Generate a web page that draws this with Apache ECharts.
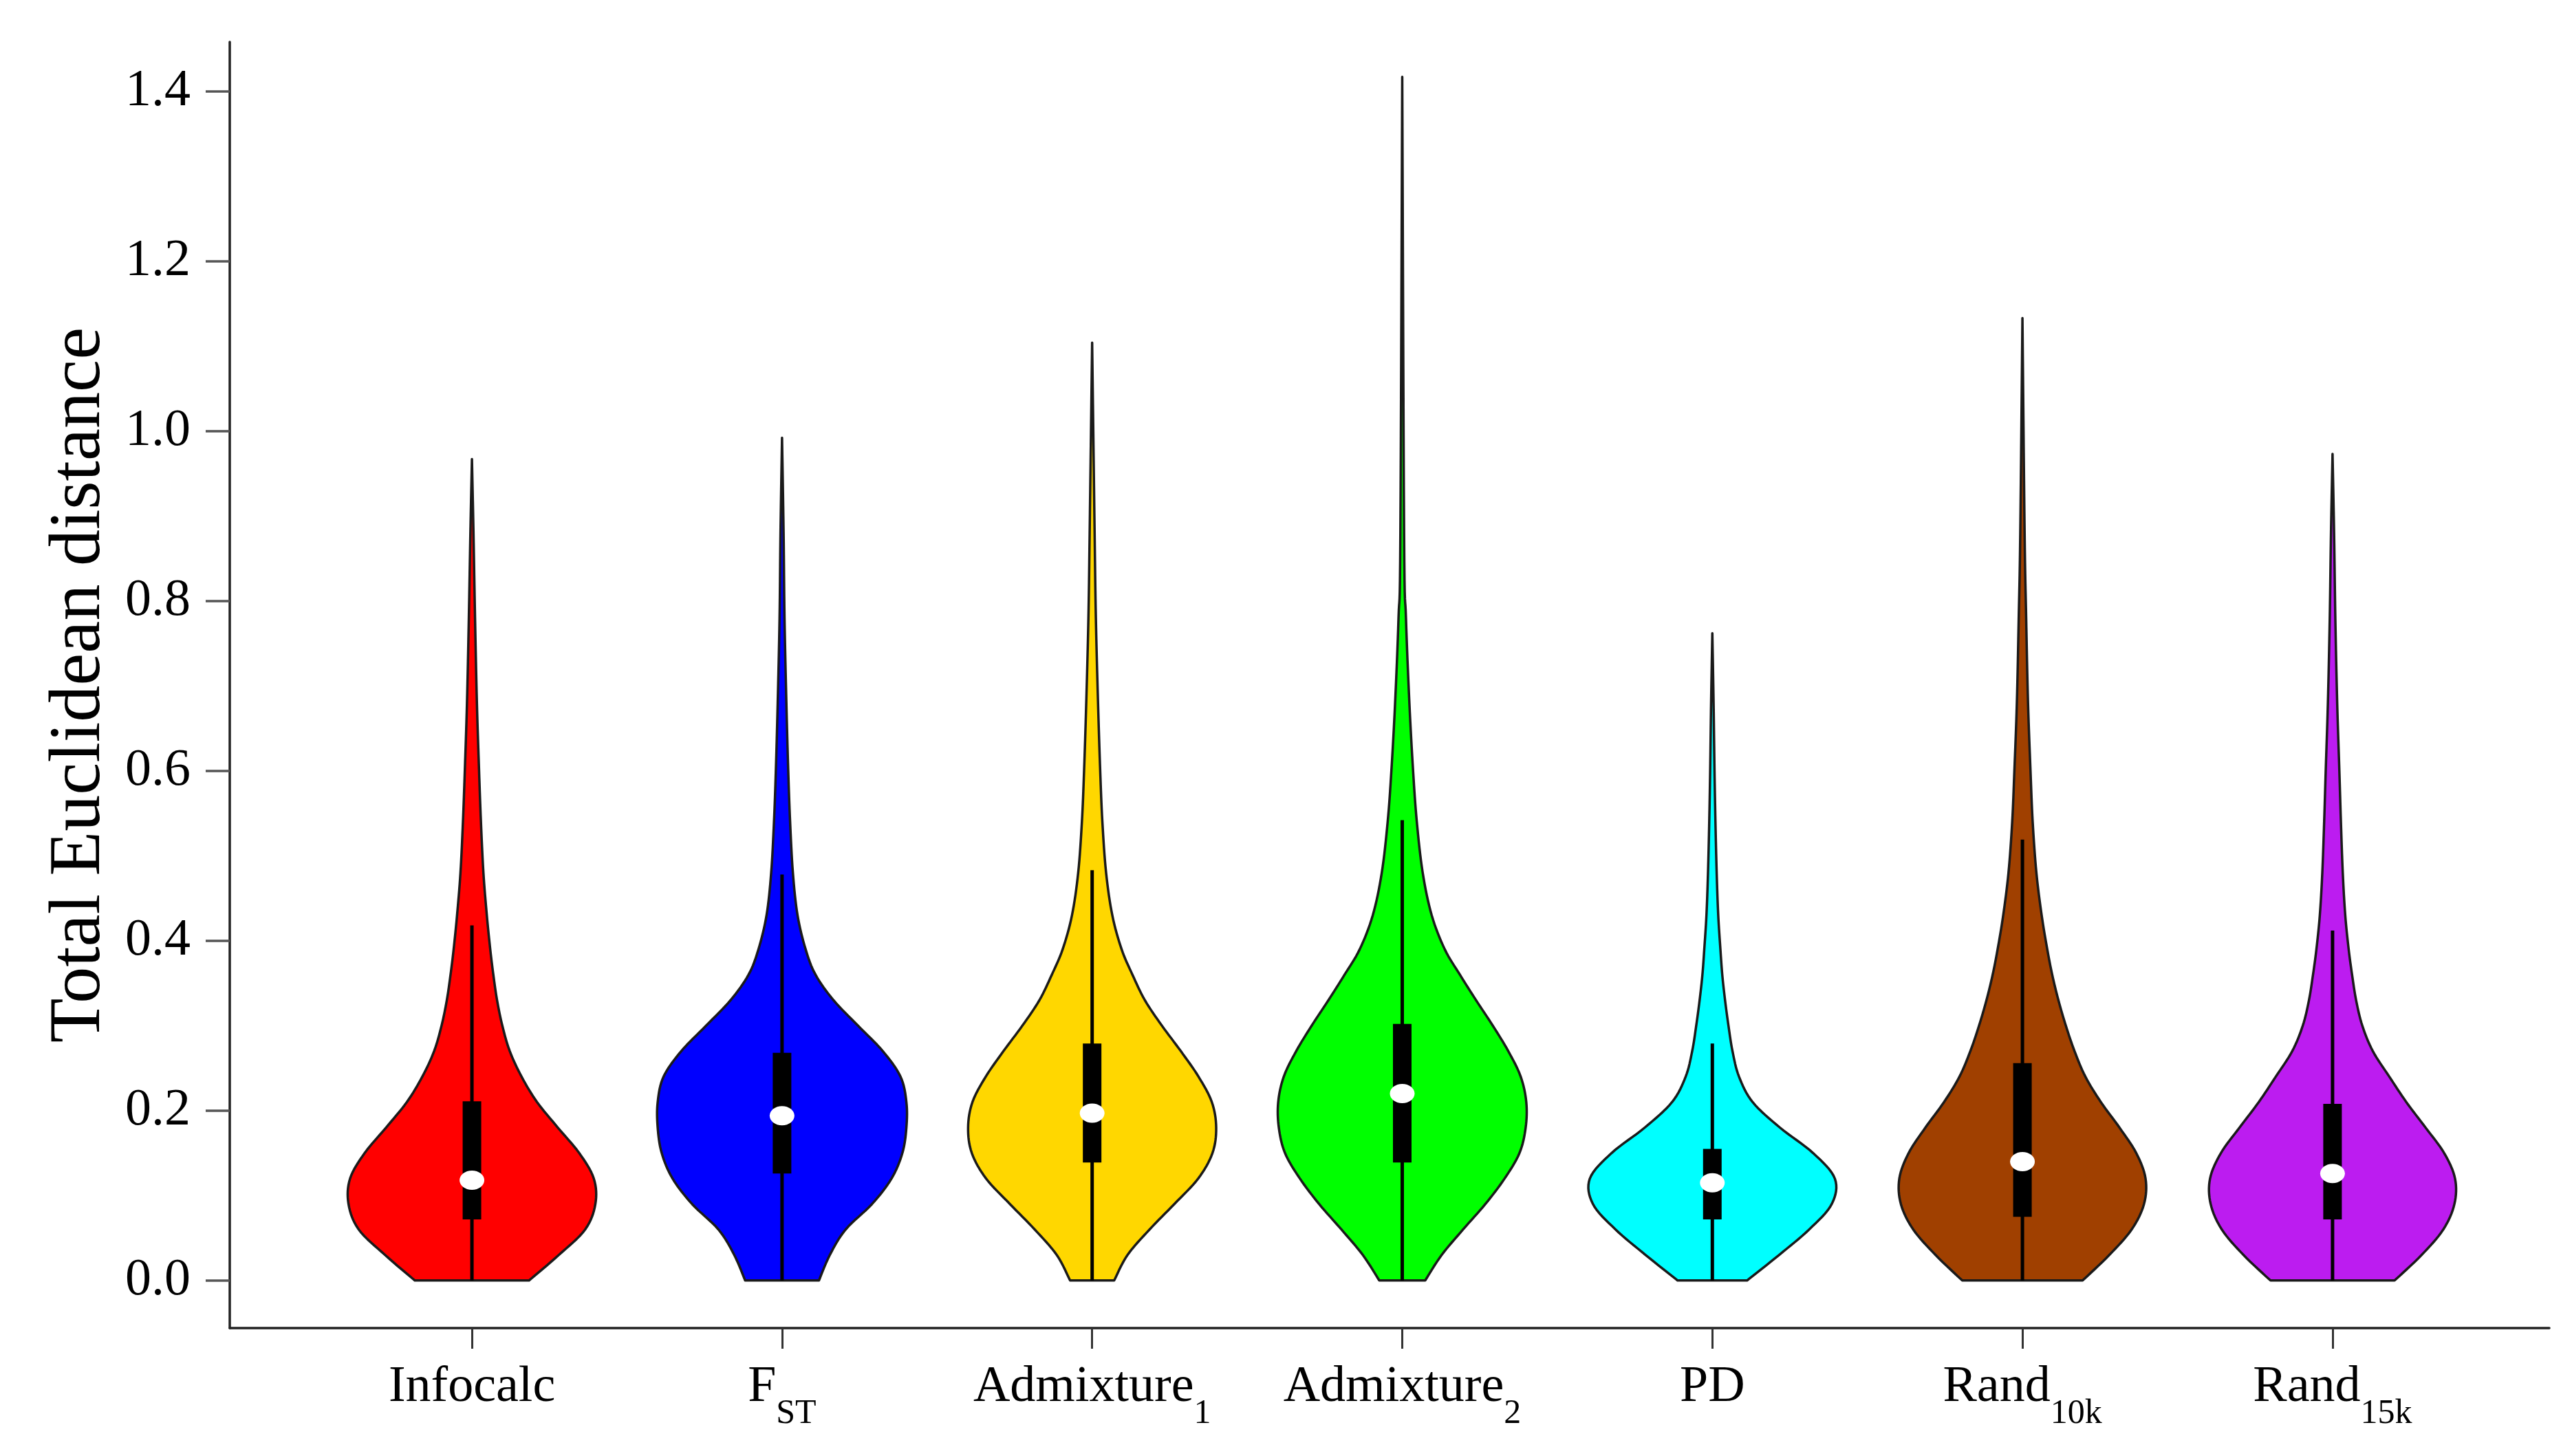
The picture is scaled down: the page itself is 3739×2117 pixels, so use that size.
<!DOCTYPE html>
<html>
<head>
<meta charset="utf-8">
<script src="https://cdn.jsdelivr.net/npm/echarts@6/dist/echarts.min.js"></script>
<style>
  html, body { margin: 0; padding: 0; background: #fff; }
  #chart { width: 3739px; height: 2117px; }
</style>
</head>
<body>
<div id="chart"></div>
<script>
// categories and subscripts of the labels
var names = ['Infocalc', 'F', 'Admixture', 'Admixture', 'PD', 'Rand', 'Rand'];
var subs = ['', 'ST', '1', '2', '', '10k', '15k'];
var colors = ['#ff0000', '#0000ff', '#ffd700', '#00ff00', '#00ffff', '#a04000', '#bc1cf0'];

// levels where the violin half widths were read (distance units)
var levels = [0, 0.03, 0.06, 0.09, 0.12, 0.15, 0.18, 0.21, 0.24, 0.27, 0.30, 0.33, 0.36, 0.39, 0.43, 0.48, 0.54, 0.60, 0.68, 0.78, 0.88];
// half widths, in category units
var wInfocalc = [0.184, 0.28, 0.365, 0.398, 0.393, 0.346, 0.277, 0.21, 0.16, 0.122, 0.098, 0.081, 0.069, 0.059, 0.048, 0.037, 0.029, 0.023, 0.016, 0.01, 0.005];
var wFst      = [0.119, 0.154, 0.205, 0.29, 0.353, 0.388, 0.401, 0.401, 0.382, 0.325, 0.245, 0.166, 0.108, 0.076, 0.05, 0.035, 0.026, 0.02, 0.014, 0.008, 0.005];
var wAdm1     = [0.071, 0.114, 0.185, 0.265, 0.342, 0.388, 0.40, 0.386, 0.343, 0.286, 0.225, 0.17, 0.13, 0.095, 0.065, 0.045, 0.033, 0.026, 0.019, 0.012, 0.008];
var wAdm2     = [0.074, 0.127, 0.196, 0.268, 0.33, 0.378, 0.398, 0.40, 0.382, 0.342, 0.292, 0.238, 0.186, 0.137, 0.095, 0.066, 0.047, 0.035, 0.023, 0.012, 0.006];
var wPD       = [0.112, 0.215, 0.312, 0.385, 0.395, 0.325, 0.218, 0.13, 0.086, 0.065, 0.052, 0.041, 0.032, 0.026, 0.019, 0.014, 0.01, 0.007, 0.004, 0, 0];
var wRand10k  = [0.194, 0.28, 0.352, 0.392, 0.397, 0.367, 0.313, 0.253, 0.203, 0.168, 0.14, 0.116, 0.096, 0.08, 0.062, 0.045, 0.033, 0.026, 0.018, 0.012, 0.007];
var wRand15k  = [0.2, 0.287, 0.357, 0.393, 0.395, 0.36, 0.30, 0.238, 0.183, 0.13, 0.096, 0.076, 0.063, 0.052, 0.041, 0.033, 0.027, 0.022, 0.015, 0.009, 0.005];
var widths = [wInfocalc, wFst, wAdm1, wAdm2, wPD, wRand10k, wRand15k];

// box plot stats
var maxima    = [0.967, 0.992, 1.104, 1.417, 0.762, 1.133, 0.973];
var whiskerHi = [0.418, 0.478, 0.483, 0.542, 0.279, 0.519, 0.412];
var q3        = [0.211, 0.268, 0.279, 0.302, 0.155, 0.256, 0.208];
var medians   = [0.118, 0.194, 0.197, 0.220, 0.115, 0.140, 0.126];
var q1        = [0.072, 0.126, 0.139, 0.139, 0.072, 0.075, 0.072];

var yTicks = [0, 0.2, 0.4, 0.6, 0.8, 1.0, 1.2, 1.4];
var xTicks = [1, 2, 3, 4, 5, 6, 7];

var FONT = '"Liberation Serif", "Times New Roman", serif';

// catmull-rom through pixel points
function smoothPts(pts) {
  var out = [];
  var n = pts.length;
  for (var i = 0; i < n - 1; i++) {
    var p0 = pts[Math.max(i - 1, 0)], p1 = pts[i], p2 = pts[i + 1], p3 = pts[Math.min(i + 2, n - 1)];
    for (var k = 0; k < 8; k++) {
      var t = k / 8, t2 = t * t, t3 = t2 * t;
      var x = 0.5 * ((2 * p1[0]) + (-p0[0] + p2[0]) * t + (2 * p0[0] - 5 * p1[0] + 4 * p2[0] - p3[0]) * t2 + (-p0[0] + 3 * p1[0] - 3 * p2[0] + p3[0]) * t3);
      var y = 0.5 * ((2 * p1[1]) + (-p0[1] + p2[1]) * t + (2 * p0[1] - 5 * p1[1] + 4 * p2[1] - p3[1]) * t2 + (-p0[1] + 3 * p1[1] - 3 * p2[1] + p3[1]) * t3);
      out.push([x, y]);
    }
  }
  out.push(pts[n - 1]);
  return out;
}

function renderItem(params, api) {
  var i = params.dataIndex;
  var cx = api.coord([i + 1, 0])[0];
  var unit = api.size([1, 0])[0];
  var w = widths[i];
  // right side, bottom to top
  var prof = [];
  for (var k = 0; k < levels.length; k++) {
    if (levels[k] >= maxima[i]) break;
    prof.push([Math.max(w[k], 0) * unit, api.coord([i + 1, levels[k]])[1]]);
  }
  prof.push([0, api.coord([i + 1, maxima[i]])[1]]);
  var sm = smoothPts(prof);
  var pts = [];
  sm.forEach(function (p) { pts.push([cx + Math.max(p[0], 0), p[1]]); });
  for (var j = sm.length - 1; j >= 0; j--) pts.push([cx - Math.max(sm[j][0], 0), sm[j][1]]);

  var yBase = api.coord([i + 1, 0])[1];
  var yWh = api.coord([i + 1, whiskerHi[i]])[1];
  var yQ3 = api.coord([i + 1, q3[i]])[1];
  var yQ1 = api.coord([i + 1, q1[i]])[1];
  var yMed = api.coord([i + 1, medians[i]])[1];
  var bw = 27;

  return {
    type: 'group',
    children: [
      { type: 'polygon', shape: { points: pts },
        style: { fill: colors[i], stroke: '#1a1a1a', lineWidth: 3.5, lineJoin: 'round' } },
      { type: 'line', shape: { x1: cx, y1: yBase, x2: cx, y2: yWh },
        style: { stroke: '#000', lineWidth: 5 } },
      { type: 'rect', shape: { x: cx - bw / 2, y: yQ3, width: bw, height: yQ1 - yQ3 },
        style: { fill: '#000' } },
      { type: 'ellipse', shape: { cx: cx, cy: yMed, rx: 18, ry: 14 },
        style: { fill: '#fff' } }
    ]
  };
}

var chart = echarts.init(document.getElementById('chart'));
chart.setOption({
  backgroundColor: '#fff',
  animation: false,
  grid: { left: 334, right: 33, top: 61, bottom: 186, outerBoundsMode: 'none', containLabel: false },
  xAxis: {
    type: 'value', min: 0.219, max: 7.699,
    axisLine: { show: true, onZero: false, lineStyle: { color: '#222', width: 3.5 } },
    axisTick: { show: true, length: 30, customValues: xTicks, lineStyle: { color: '#333', width: 3 } },
    axisLabel: {
      customValues: xTicks, margin: 50, color: '#000',
      formatter: function (v) {
        var i = Math.round(v) - 1;
        return '{m|' + names[i] + '}' + (subs[i] ? '{s|' + subs[i] + '}' : '');
      },
      rich: {
        m: { fontFamily: FONT, fontSize: 74, lineHeight: 100, verticalAlign: 'top', color: '#000' },
        s: { fontFamily: FONT, fontSize: 50, lineHeight: 46, verticalAlign: 'bottom', color: '#000' }
      }
    },
    splitLine: { show: false }
  },
  yAxis: {
    type: 'value', min: -0.056, max: 1.458,
    name: 'Total Euclidean distance', nameLocation: 'middle', nameGap: 165,
    nameTextStyle: { fontFamily: FONT, fontSize: 106, color: '#000' },
    axisLine: { show: true, onZero: false, lineStyle: { color: '#222', width: 3.5 } },
    axisTick: { show: true, length: 35, customValues: yTicks, lineStyle: { color: '#555', width: 3.5 } },
    axisLabel: {
      customValues: yTicks, margin: 57, color: '#000',
      fontFamily: FONT, fontSize: 76,
      formatter: function (v) { return v.toFixed(1); }
    },
    splitLine: { show: false }
  },
  series: [{
    type: 'custom',
    renderItem: renderItem,
    encode: { x: 0, y: 1 },
    data: medians.map(function (m, i) { return [i + 1, m]; }),
    clip: false
  }]
});
</script>
</body>
</html>
